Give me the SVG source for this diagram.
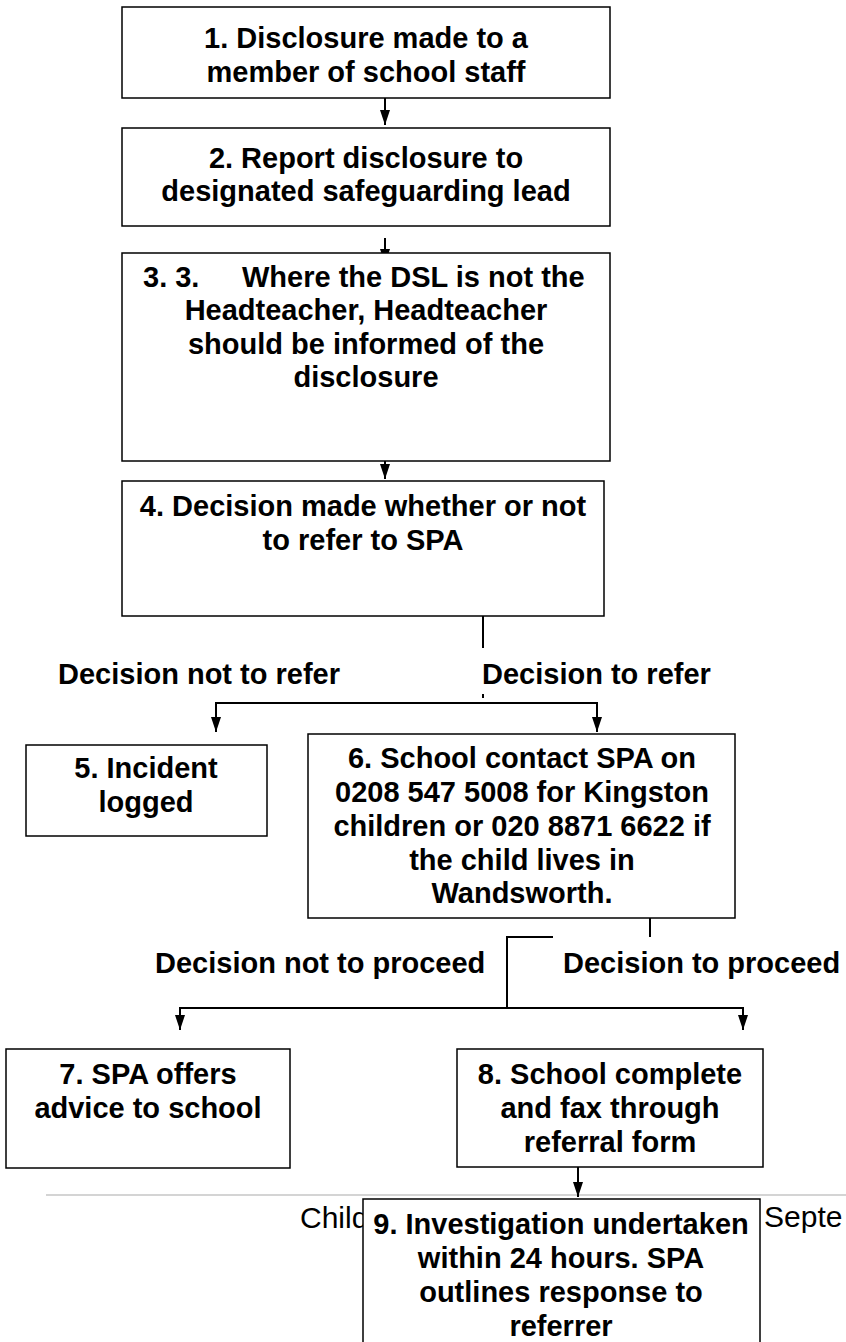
<svg xmlns="http://www.w3.org/2000/svg" width="846" height="1342" viewBox="0 0 846 1342">
<style>
.box{fill:#fff;stroke:#000;stroke-width:1.5}
.t{font-family:"Liberation Sans",Arial,sans-serif;font-weight:bold;font-size:29px;fill:#000;text-anchor:middle}
.lbl{font-family:"Liberation Sans",Arial,sans-serif;font-weight:bold;font-size:29px;fill:#000}
.ln{fill:none;stroke:#000;stroke-width:2}
.foot{font-family:"Liberation Sans",Arial,sans-serif;font-size:30px;fill:#000}
</style>
<defs>
<marker id="ah" markerWidth="15" markerHeight="10" refX="15" refY="5" orient="auto" markerUnits="userSpaceOnUse" viewBox="0 0 15 10">
<path d="M0,0 L15,5 L0,10 Z" fill="#000"/>
</marker>
</defs>
<rect width="846" height="1342" fill="#fff"/>
<g id="footer">
<line x1="46" y1="1195" x2="846" y2="1195" stroke="#d4d4d4" stroke-width="2"/>
<text class="foot" x="300" y="1228">Child</text>
<text class="foot" x="764" y="1227">Septe</text>
</g>
<g id="connectors">
<line class="ln" x1="385" y1="98" x2="385" y2="125" marker-end="url(#ah)"/>
<line class="ln" x1="385" y1="238" x2="385" y2="264" marker-end="url(#ah)"/>
<line class="ln" x1="385" y1="461" x2="385" y2="479" marker-end="url(#ah)"/>
<line class="ln" x1="483" y1="616" x2="483" y2="648"/>
<line class="ln" x1="483" y1="694" x2="483" y2="698"/>
<polyline class="ln" points="216,732 216,703 597,703 597,732"/>
<line class="ln" x1="216" y1="712" x2="216" y2="732" marker-end="url(#ah)"/>
<line class="ln" x1="597" y1="712" x2="597" y2="732" marker-end="url(#ah)"/>
<line class="ln" x1="650" y1="918" x2="650" y2="937"/>
<polyline class="ln" points="553,937 507,937 507,1008"/>
<polyline class="ln" points="180,1016 180,1008 743,1008 743,1016"/>
<line class="ln" x1="180" y1="1014" x2="180" y2="1030" marker-end="url(#ah)"/>
<line class="ln" x1="743" y1="1014" x2="743" y2="1030" marker-end="url(#ah)"/>
<line class="ln" x1="578" y1="1167" x2="578" y2="1197" marker-end="url(#ah)"/>
<text class="lbl" x="58" y="684">Decision not to refer</text>
<text class="lbl" x="482" y="684">Decision to refer</text>
<text class="lbl" x="155" y="973">Decision not to proceed</text>
<text class="lbl" x="563" y="973">Decision to proceed</text>
</g>
<g id="n1">
<rect class="box" x="122" y="7" width="488" height="91"/>
<text class="t" x="366" y="48">1. Disclosure made to a</text>
<text class="t" x="366" y="82">member of school staff</text>
</g>
<g id="n2">
<rect class="box" x="122" y="128" width="488" height="98"/>
<text class="t" x="366" y="168">2. Report disclosure to</text>
<text class="t" x="366" y="201">designated safeguarding lead</text>
</g>
<g id="n3">
<rect class="box" x="122" y="253" width="488" height="208"/>
<text class="lbl" y="287"><tspan x="143">3. 3.</tspan><tspan x="242">Where the DSL is not the</tspan></text>
<text class="t" x="366" y="320">Headteacher, Headteacher</text>
<text class="t" x="366" y="354">should be informed of the</text>
<text class="t" x="366" y="387">disclosure</text>
</g>
<g id="n4">
<rect class="box" x="122" y="481" width="482" height="135"/>
<text class="t" x="363" y="516">4. Decision made whether or not</text>
<text class="t" x="363" y="550">to refer to SPA</text>
</g>
<g id="n5">
<rect class="box" x="26" y="745" width="241" height="91"/>
<text class="t" x="146" y="778">5. Incident</text>
<text class="t" x="146" y="812">logged</text>
</g>
<g id="n6">
<rect class="box" x="308" y="734" width="427" height="184"/>
<text class="t" x="522" y="768">6. School contact SPA on</text>
<text class="t" x="522" y="802">0208 547 5008 for Kingston</text>
<text class="t" x="522" y="836">children or 020 8871 6622 if</text>
<text class="t" x="522" y="870">the child lives in</text>
<text class="t" x="522" y="903">Wandsworth.</text>
</g>
<g id="n7">
<rect class="box" x="6" y="1049" width="284" height="119"/>
<text class="t" x="148" y="1084">7. SPA offers</text>
<text class="t" x="148" y="1118">advice to school</text>
</g>
<g id="n8">
<rect class="box" x="457" y="1049" width="306" height="118"/>
<text class="t" x="610" y="1084">8. School complete</text>
<text class="t" x="610" y="1118">and fax through</text>
<text class="t" x="610" y="1152">referral form</text>
</g>
<g id="n9">
<rect class="box" x="363" y="1199" width="397" height="160"/>
<text class="t" x="561" y="1234">9. Investigation undertaken</text>
<text class="t" x="561" y="1268">within 24 hours. SPA</text>
<text class="t" x="561" y="1302">outlines response to</text>
<text class="t" x="561" y="1336">referrer</text>
</g>
</svg>
